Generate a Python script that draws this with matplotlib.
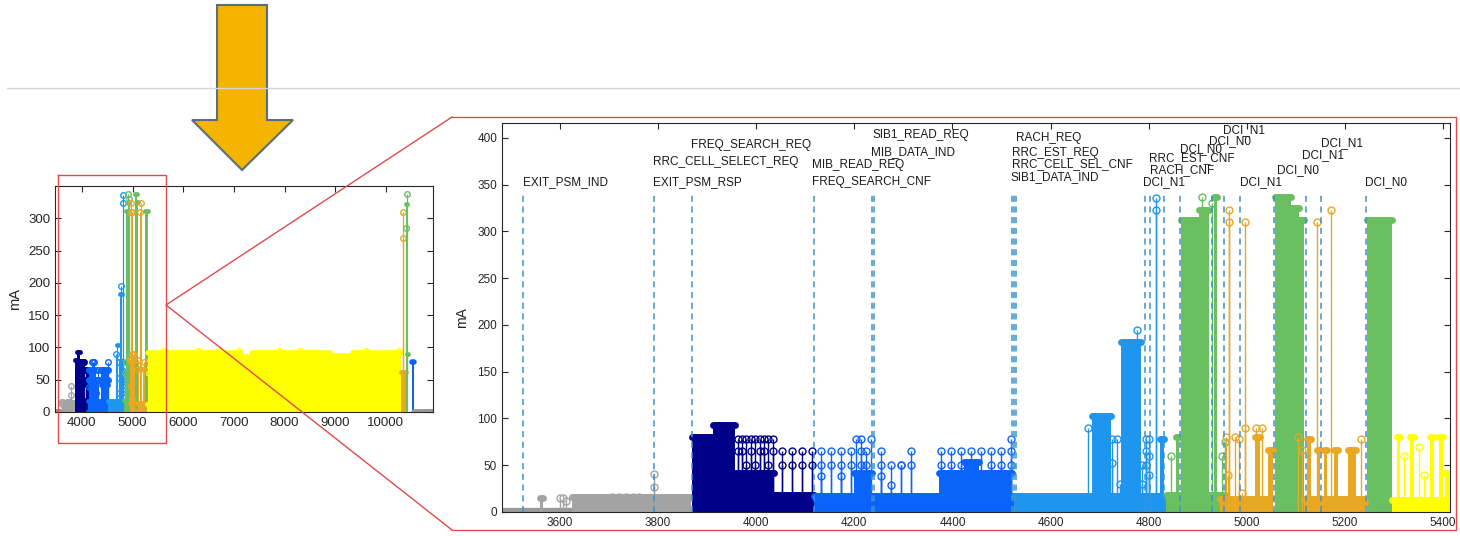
#!/usr/bin/env python3
"""Current trace (mA) overview + zoomed event view, drawn like the MATLAB stem plots."""

import matplotlib

matplotlib.use("Agg")
import matplotlib.pyplot as plt
from matplotlib.patches import Polygon

plt.rcParams["font.family"] = ["Liberation Sans", "DejaVu Sans"]

# ---- series colours -------------------------------------------------------
GRAY = "#a3a3a3"
NAVY = "#00008b"
BLUE = "#0a64fa"
LBLUE = "#1e96f0"
GREEN = "#6abf60"
ORANGE = "#e9a823"
YELLOW = "#ffff00"
EVENT = "#3d92cf"

# ---- data: dense runs as (start, end, mA), sparse stems as x / y -----------
GRAY_ZERO = [(3487, 3642)]
GRAY_BLOCKS = [(3625, 3868, 16), (3560, 3566, 15)]
GRAY_STEM_X = [3600, 3606, 3612, 3706, 3720, 3734, 3748, 3762, 3706, 3720, 3734, 3748, 3762, 3792, 3792, 3812, 3830]
GRAY_STEM_Y = [15, 15, 12, 16, 16, 16, 16, 16, 6, 6, 6, 6, 6, 27, 41, 0, 0]

NAVY_BLOCKS = [(3869, 3911, 80), (3911, 3956, 93), (3956, 4037, 42), (4037, 4117, 18)]
NAVY_STEM_X = [3962, 3971, 3980, 3989, 3998, 4007, 4016, 4025, 4034,
               3962, 3971, 3980, 3989, 3998, 4007, 4016, 4025, 4034,
               4052, 4073, 4094, 4114, 4052, 4073, 4094, 4114]
NAVY_STEM_Y = [78, 78, 78, 78, 78, 78, 78, 78, 78,
               65, 65, 50, 65, 50, 65, 65, 50, 65,
               65, 65, 65, 65, 50, 50, 50, 50]

BLUE_BLOCKS = [(4117, 4525, 17), (4200, 4237, 42), (4373, 4522, 42), (4424, 4455, 53)]
BLUE_STEM_X = [4132, 4153, 4173, 4194, 4214, 4224, 4255, 4275, 4295, 4316,
               4132, 4153, 4173, 4194, 4214, 4224, 4255, 4295, 4316,
               4204, 4214, 4234, 4132, 4173, 4255, 4275, 4145,
               4377, 4397, 4418, 4438, 4458, 4479, 4499, 4519,
               4377, 4397, 4418, 4479, 4499, 4519, 4519]
BLUE_STEM_Y = [65, 65, 65, 65, 65, 65, 65, 50, 50, 65,
               50, 50, 50, 50, 50, 50, 50, 50, 50,
               78, 78, 78, 38, 38, 38, 29, 0,
               65, 65, 65, 65, 65, 65, 65, 65,
               50, 50, 50, 50, 50, 50, 78]

LBLUE_BLOCKS = [(4525, 4840, 17), (4684, 4723, 103), (4743, 4784, 182), (4824, 4832, 78)]
LBLUE_STEM_X = [4676, 4725, 4725, 4736, 4741, 4776, 4787, 4787, 4794, 4794, 4794,
                4801, 4801, 4801, 4815, 4815, 4790]
LBLUE_STEM_Y = [90, 78, 52, 78, 30, 195, 50, 30, 78, 65, 50,
                78, 60, 40, 336, 323, 0]

GREEN_BLOCKS = [(4835, 4955, 18), (4865, 4902, 312), (4902, 4922, 323), (4934, 4939, 337),
                (5058, 5089, 337), (5089, 5106, 325), (5106, 5116, 312), (5245, 5296, 312),
                (4856, 4861, 80)]
GREEN_STEM_X = [4909, 4928, 4845, 4872, 4952, 4955, 4950]
GREEN_STEM_Y = [337, 330, 60, 78, 0, 75, 60]

ORANGE_BLOCKS = [(4946, 5051, 14), (5116, 5238, 14),
                 (5016, 5026, 80), (5044, 5053, 66), (5122, 5130, 78), (5142, 5150, 66),
                 (5157, 5164, 66), (5177, 5185, 66), (5207, 5222, 66), (5232, 5240, 10)]
ORANGE_STEM_X = [4964, 4964, 4996, 5142, 5172, 4958, 4975, 4985, 4997, 5018, 5030,
                 5105, 5112, 4962, 5000, 5048, 5225, 5232, 4990]
ORANGE_STEM_Y = [323, 310, 310, 310, 323, 80, 80, 78, 90, 90, 90,
                 80, 66, 40, 0, 0, 0, 78, 20]

YELLOW_BLOCKS = [(5295, 5414, 13), (5305, 5313, 80), (5332, 5340, 80), (5373, 5381, 80),
                 (5391, 5399, 80), (5403, 5414, 42)]
YELLOW_STEM_X = [5320, 5350, 5360]
YELLOW_STEM_Y = [60, 70, 40]

# overview-only data (beyond the zoomed window)
YELLOW_FAR_BLOCKS = [(5296, 7150, 92), (7150, 7350, 85), (7350, 8900, 92),
                     (8900, 9350, 86), (9350, 10300, 92)]
YELLOW_FAR_X = [5600, 6300, 6500, 6700, 7100, 7900, 8300, 8500, 9600, 10250]
YELLOW_FAR_Y = [95, 95, 92, 95, 95, 95, 95, 92, 95, 95]
LATE_ORANGE_BLOCKS = [(10290, 10390, 62)]
LATE_ORANGE_X = [10340, 10340]
LATE_ORANGE_Y = [310, 270]
LATE_GREEN_BLOCKS = [(10400, 10415, 322), (10415, 10440, 90)]
LATE_GREEN_X = [10408, 10400]
LATE_GREEN_Y = [337, 285]
LATE_BLUE_BLOCKS = [(10525, 10560, 78)]
GRAY_ZERO_LATE = [(10560, 10920)]

# ---- events on the zoomed view ---------------------------------------------
EVENT_X = [3524, 3792, 3869, 4117, 4236, 4240, 4521, 4526, 4530, 4793, 4802,
           4832, 4863, 4928, 4953, 4987, 5055, 5121, 5152, 5243]
EVENT_TOP = 342
LABELS = ["EXIT_PSM_IND", "EXIT_PSM_RSP", "RRC_CELL_SELECT_REQ", "FREQ_SEARCH_REQ",
          "MIB_READ_REQ", "FREQ_SEARCH_CNF", "SIB1_READ_REQ", "MIB_DATA_IND",
          "RACH_REQ", "RRC_EST_REQ", "RRC_CELL_SEL_CNF", "SIB1_DATA_IND",
          "DCI_N1", "RACH_CNF", "RRC_EST_CNF", "DCI_N0", "DCI_N0", "DCI_N1",
          "DCI_N1", "DCI_N0", "DCI_N1", "DCI_N1", "DCI_N0"]
LABEL_X = [3524, 3789, 3789, 3867, 4114, 4113, 4237, 4234, 4529, 4522, 4522, 4518,
           4788, 4802, 4800, 4863, 4922, 4951, 4986, 5061, 5112, 5152, 5241]
LABEL_Y = [353, 353, 374, 392, 371, 353, 403, 385, 400, 384, 372, 358,
           353, 366, 378, 388, 397, 408, 353, 366, 382, 394, 353]

W, H = 1460, 536


def px_axes(fig, left, top, right, bottom):
    return fig.add_axes([left / W, 1 - bottom / H, (right - left) / W, (bottom - top) / H])


def draw_series(ax, color, blocks, xs, ys, ms, cap, lw):
    if blocks:
        x0 = [b[0] for b in blocks]
        x1 = [b[1] for b in blocks]
        hh = [b[2] for b in blocks]
        ax.bar(x0, hh, width=[b - a for a, b in zip(x0, x1)], align="edge",
               color=color, lw=0, zorder=2)
        caps = ax.hlines(hh, x0, x1, colors=color, lw=cap, zorder=2)
        caps.set_capstyle("round")
    if xs:
        ax.vlines(xs, 0, ys, colors=color, lw=lw, zorder=2)
        ax.plot(xs, ys, "o", ms=ms, mfc="none", mec=color, mew=1.0, zorder=2)


def zero_band(ax, spans, lw):
    band = ax.hlines([0] * len(spans), [s[0] for s in spans], [s[1] for s in spans],
                     colors="#9a9a9a", lw=lw, zorder=2)
    band.set_capstyle("round")


def style_axes(ax, size):
    ax.tick_params(direction="in", top=True, right=True, length=4,
                   labelsize=size, colors="#262626", width=0.8)
    for sp in ax.spines.values():
        sp.set_color("#262626")
        sp.set_linewidth(0.8)


def main():
    fig = plt.figure(figsize=(W / 100, H / 100), dpi=100)

    series = [
        (GRAY, GRAY_BLOCKS, GRAY_STEM_X, GRAY_STEM_Y),
        (NAVY, NAVY_BLOCKS, NAVY_STEM_X, NAVY_STEM_Y),
        (BLUE, BLUE_BLOCKS, BLUE_STEM_X, BLUE_STEM_Y),
        (LBLUE, LBLUE_BLOCKS, LBLUE_STEM_X, LBLUE_STEM_Y),
        (GREEN, GREEN_BLOCKS, GREEN_STEM_X, GREEN_STEM_Y),
        (ORANGE, ORANGE_BLOCKS, ORANGE_STEM_X, ORANGE_STEM_Y),
        (YELLOW, YELLOW_BLOCKS, YELLOW_STEM_X, YELLOW_STEM_Y),
    ]

    # overview plot
    ov = px_axes(fig, 55, 186, 433, 412)
    zero_band(ov, GRAY_ZERO, 5)
    for color, blocks, xs, ys in series:
        draw_series(ov, color, blocks, xs, ys, 4, 3.5, 0.8)
    draw_series(ov, YELLOW, YELLOW_FAR_BLOCKS, YELLOW_FAR_X, YELLOW_FAR_Y, 4, 4, 0.8)
    draw_series(ov, ORANGE, LATE_ORANGE_BLOCKS, LATE_ORANGE_X, LATE_ORANGE_Y, 4, 3.5, 0.9)
    draw_series(ov, GREEN, LATE_GREEN_BLOCKS, LATE_GREEN_X, LATE_GREEN_Y, 4, 3.5, 0.9)
    draw_series(ov, BLUE, LATE_BLUE_BLOCKS, [], [], 4, 4, 0.9)
    zero_band(ov, GRAY_ZERO_LATE, 5)
    ov.set_xlim(3470, 10930)
    ov.set_ylim(0, 350)
    ov.set_xticks(range(4000, 10001, 1000))
    ov.set_yticks(range(0, 301, 50))
    style_axes(ov, 9.5)
    ov.set_ylabel("mA", fontsize=10.5, color="#262626", labelpad=4)

    # zoomed plot
    ax = px_axes(fig, 502, 123, 1450, 512)
    zero_band(ax, GRAY_ZERO, 6)
    for color, blocks, xs, ys in series:
        draw_series(ax, color, blocks, xs, ys, 5, 5, 1.0)
    ax.vlines(EVENT_X, 0, EVENT_TOP, colors=EVENT, lw=1.1,
              linestyles=(0, (4, 3)), zorder=3)
    for label, x, y in zip(LABELS, LABEL_X, LABEL_Y):
        ax.text(x, y, label, fontsize=8.5, ha="left", va="center",
                color="#1a1a1a", zorder=4)
    ax.set_xlim(3482, 5414)
    ax.set_ylim(0, 416)
    ax.set_xticks(range(3600, 5401, 200))
    ax.set_yticks(range(0, 401, 50))
    style_axes(ax, 8.5)
    ax.set_ylabel("mA", fontsize=10, color="#262626", labelpad=6)

    # annotation layer in pixel coordinates
    ann = fig.add_axes([0, 0, 1, 1], zorder=10)
    ann.set_xlim(0, W)
    ann.set_ylim(H, 0)
    ann.axis("off")
    ann.plot([7, 1460], [88, 88], color="#d6d6d6", lw=1)
    arrow = Polygon([(217, 5), (267, 5), (267, 120), (293, 120), (242, 170),
                     (192, 120), (217, 120)], closed=True,
                    facecolor="#f5b400", edgecolor="#5a6e7a", lw=1.5)
    ann.add_patch(arrow)
    red = "#e04a4a"
    ann.plot([58, 166, 166, 58, 58], [175, 175, 443, 443, 175], color=red, lw=1)
    ann.plot([452, 166, 452], [117, 305, 530], color=red, lw=1)
    ann.plot([452, 1456, 1456, 452], [117, 117, 530, 530], color=red, lw=1)

    fig.savefig("out.png", dpi=100)
    plt.close(fig)


if __name__ == "__main__":
    main()
